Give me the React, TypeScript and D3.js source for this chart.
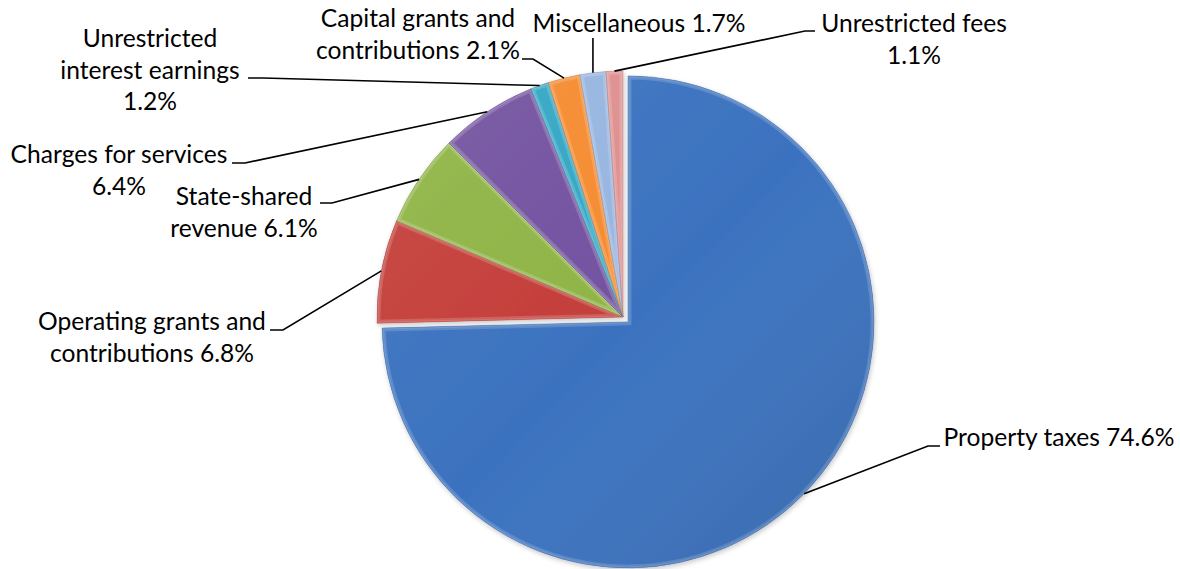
import React from "react";
import * as d3 from "d3";

const categories = [
  "Property taxes",
  "Operating grants and contributions",
  "State-shared revenue",
  "Charges for services",
  "Unrestricted interest earnings",
  "Capital grants and contributions",
  "Miscellaneous",
  "Unrestricted fees",
];
const values = [74.6, 6.8, 6.1, 6.4, 1.2, 2.1, 1.7, 1.1];
const colors = ["#3B72BF", "#C43E3A", "#8FB446", "#7352A0", "#33A6C4", "#F58B30", "#97B5E0", "#DE8F8E"];
const labelText = [
  ["Property taxes 74.6%"],
  ["Operating grants and", "contributions 6.8%"],
  ["State-shared", "revenue 6.1%"],
  ["Charges for services", "6.4%"],
  ["Unrestricted", "interest earnings", "1.2%"],
  ["Capital grants and", "contributions 2.1%"],
  ["Miscellaneous 1.7%"],
  ["Unrestricted fees", "1.1%"],
];

// layout: label centre x, first baseline y, leader waypoints (from slice edge outward)
const labelLayout = [
  { x: 1059, y: 446, pts: [[928, 446], [940, 446]] },
  { x: 152, y: 330, pts: [[283, 330], [270, 330]] },
  { x: 244, y: 205, pts: [[332, 203], [320, 203]] },
  { x: 119, y: 163, pts: [[245, 163], [232, 163]] },
  { x: 150, y: 47, pts: [[263, 78], [248, 78]] },
  { x: 418, y: 27, pts: [[533, 59], [522, 59]] },
  { x: 639, y: 32, pts: [[null, 38]] },
  { x: 914, y: 32, pts: [[805, 31], [815, 31]] },
];

const W = 1180;
const H = 569;
const CX = 623;
const CY = 317;
const R = 246;
const EXPLODE = [7, 0, 0, 0, 0, 0, 0, 0];
const FONT = "Lato, 'Open Sans', sans-serif";
const FONT_SIZE = 24.6;
const LINE_H = 31.5;

export default function App() {
  const arcs = d3.pie<number>().sort(null).value((d) => d).startAngle(0).endAngle(2 * Math.PI)(values);
  const arc = d3.arc<d3.PieArcDatum<number>>().innerRadius(0).outerRadius(R);

  const offsets = arcs.map((a, i) => {
    const mid = (a.startAngle + a.endAngle) / 2;
    return [EXPLODE[i] * Math.sin(mid), -EXPLODE[i] * Math.cos(mid)];
  });

  return (
    <svg width={W} height={H} style={{ position: "absolute", left: 0, top: 0, background: "#fff" }}>
      <defs>
        {arcs.map((a, i) => (
          <clipPath id={`clip-${i}`} key={i}>
            <path d={arc(a) || ""} />
          </clipPath>
        ))}
        <linearGradient id="shade" x1="0" y1="0" x2="1" y2="1">
          <stop offset="0" stopColor="#fff" stopOpacity={0.08} />
          <stop offset="0.5" stopColor="#fff" stopOpacity={0} />
          <stop offset="1" stopColor="#000" stopOpacity={0.14} />
        </linearGradient>
        <filter id="glow" x="-10%" y="-10%" width="120%" height="120%">
          <feGaussianBlur in="SourceAlpha" stdDeviation="2.5" />
          <feOffset dx="1" dy="2" result="b" />
          <feComponentTransfer>
            <feFuncA type="linear" slope="0.22" />
          </feComponentTransfer>
          <feMerge>
            <feMergeNode />
            <feMergeNode in="SourceGraphic" />
          </feMerge>
        </filter>
      </defs>
      <g filter="url(#glow)">
        {arcs.map((a, i) => {
          const d = arc(a) || "";
          const c = d3.color(colors[i])!;
          const light = d3.interpolateRgb(colors[i], "#ffffff")(0.4);
          const dark = c.darker(0.7).formatHex();
          return (
            <g key={i} transform={`translate(${CX + offsets[i][0]},${CY + offsets[i][1]})`}>
              <path d={d} fill={colors[i]} />
              <g clipPath={`url(#clip-${i})`}>
                <path d={d} fill="none" stroke={light} strokeWidth={7} strokeOpacity={0.4} />
                <path d={d} fill="none" stroke={light} strokeWidth={3} strokeOpacity={0.45} />
                <rect x={-R} y={-R} width={2 * R} height={2 * R} fill="url(#shade)" />
              </g>
              <path d={d} fill="none" stroke={dark} strokeWidth={0.8} strokeOpacity={0.5} />
            </g>
          );
        })}
      </g>
      {arcs.map((a, i) => {
        const mid = (a.startAngle + a.endAngle) / 2;
        const sx = CX + offsets[i][0] + R * Math.sin(mid);
        const sy = CY + offsets[i][1] - R * Math.cos(mid);
        const pts: [number, number][] = [[sx, sy]];
        labelLayout[i].pts.forEach((p) => pts.push([p[0] == null ? sx : (p[0] as number), p[1] as number]));
        const line = d3.line()(pts) || "";
        return <path key={`l${i}`} d={line} fill="none" stroke="#000" strokeWidth={1.6} />;
      })}
      {labelText.map((lines, i) => (
        <text
          key={`t${i}`}
          x={labelLayout[i].x}
          y={labelLayout[i].y}
          textAnchor="middle"
          fontFamily={FONT}
          fontSize={FONT_SIZE}
          fill="#000"
          aria-label={categories[i]}
        >
          {lines.map((ln, j) => (
            <tspan key={j} x={labelLayout[i].x} y={labelLayout[i].y + j * LINE_H}>
              {ln}
            </tspan>
          ))}
        </text>
      ))}
    </svg>
  );
}
